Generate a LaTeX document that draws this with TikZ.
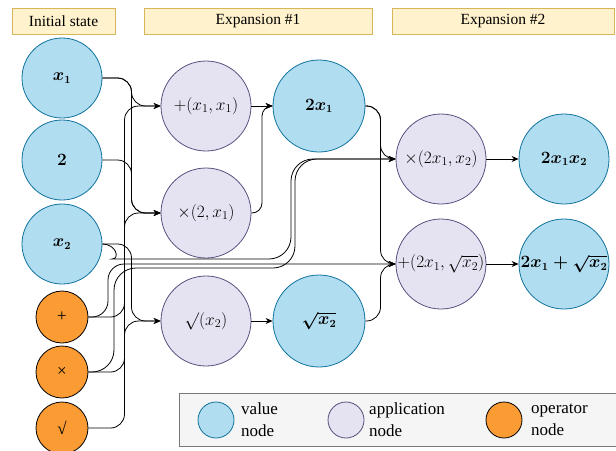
\documentclass[tikz,border=0pt]{standalone}
\usepackage{amsmath}
\usepackage{amssymb}
\usepackage[no-math]{fontspec}
\setmainfont{Liberation Serif}
\usepackage{xcolor}
\usepackage{tikz}
\usetikzlibrary{arrows.meta,calc}

\definecolor{hdrfill}{HTML}{FFF2CC}
\definecolor{hdrline}{HTML}{D6B656}
\definecolor{valfill}{HTML}{B1DDF0}
\definecolor{valline}{HTML}{10739E}
\definecolor{appfill}{HTML}{E5E3F2}
\definecolor{appline}{HTML}{56517E}
\definecolor{opfill}{HTML}{FA9C33}
\definecolor{legfill}{HTML}{F5F5F5}
\definecolor{legline}{HTML}{777777}

\begin{document}
\begin{tikzpicture}[x=1pt,y=-1pt,
			every node/.style={inner sep=0pt},
			hdr/.style={draw=hdrline,fill=hdrfill,line width=0.8pt,minimum height=26pt,font=\fontsize{15.5}{18}\selectfont},
			val/.style={circle,draw=valline,fill=valfill,line width=0.8pt,minimum size=80pt,font=\fontsize{16}{19}\selectfont\boldmath},
			app/.style={circle,draw=appline,fill=appfill,line width=0.8pt,minimum size=90pt,font=\fontsize{17}{20}\selectfont},
			op/.style={circle,draw=black,fill=opfill,line width=0.8pt,minimum size=52pt,font=\fontsize{17}{20}\selectfont},
			legtext/.style={anchor=west,align=left,font=\fontsize{17}{22}\selectfont},
			link/.style={-{Stealth[length=7pt,width=6pt]},line width=0.8pt,rounded corners=14pt},
			elbow/.style={to path={let \p1=(\tikztostart), \p2=(\tikztotarget) in
				-- ({(\x1+\x2)/2},\y1) -- ({(\x1+\x2)/2},\y2) -- (\p2)}}]
	\useasboundingbox (0,0) rectangle (616,450);
	\node[hdr,minimum width=103pt] (init) at (63.5,21) {Initial state};
	\node[hdr,minimum width=228pt] (exp1) at (258,21) {Expansion \#1};
	\node[hdr,minimum width=222pt] (exp2) at (503,21) {Expansion \#2};
	\node[val] (x1) at (62,78) {$x_1$};
	\node[val] (two) at (62,160) {$2$};
	\node[val] (x2) at (62,244) {$x_2$};
	\node[op] (plusop) at (62,317) {+};
	\node[op] (timesop) at (62,372) {×};
	\node[op] (sqrtop) at (62,428) {√};
	\node[app] (plus1) at (206,106) {$+(x_1, x_1)$};
	\node[app] (times1) at (206,213) {$\times(2, x_1)$};
	\node[app] (sqrt1) at (206,321) {$\surd(x_2)$};
	\node[val,minimum size=92pt] (dbl) at (319,106) {$2x_1$};
	\node[val,minimum size=92pt] (root) at (319,321) {$\sqrt{x_2}$};
	\node[app] (times2) at (441,159) {$\times(2x_1, x_2)$};
	\node[app] (plus2) at (441,264) {$+(2x_1, \sqrt{x_2})$};
	\node[val,minimum size=90pt] (prod) at (564,159) {$2x_1x_2$};
	\node[val,minimum size=90pt] (sum) at (564,264) {$2x_1 + \sqrt{x_2}$};
	\draw[link] (x1.east) to[elbow] (plus1.west);
	\draw[link] (x1.east) to[elbow] (times1.west);
	\draw[link] (two.east) to[elbow] (times1.west);
	\draw[link] (plusop.east) to[elbow] (plus1.west);
	\draw[link] (timesop.east) to[elbow] (times1.west);
	\draw[link] (x2.east) to[elbow] (sqrt1.west);
	\draw[link] (sqrtop.east) to[elbow] (sqrt1.west);
	\draw[link] (plus1) -- (dbl);
	\draw[link,rounded corners=10pt] (times1.east) to[elbow] (dbl.west);
	\draw[link] (sqrt1) -- (root);
	\draw[link] (dbl.east) to[elbow] (times2.west);
	\draw[link] (dbl.east) to[elbow] (plus2.west);
	\draw[link] (root.east) to[elbow] (plus2.west);
	\draw[link] (times2) -- (prod);
	\draw[link] (plus2) -- (sum);
	\draw[link,rounded corners=16pt] (plusop.east) -| (108,264) -- (plus2.west);
	\draw[link,rounded corners=22pt] (timesop.east) -| (114,268) -| (295,159) -- (times2.west);
	\draw[link,rounded corners=22pt] (x2.east) to[out=0,in=180] (134,259) -| (291,159) -- (times2.west);
	\node[draw=legline,fill=legfill,line width=0.8pt,minimum width=445pt,minimum height=53pt,anchor=north west] (legend) at (179,393) {};
	\node[val,minimum size=36pt] (kval) at (216,420) {};
	\node[legtext] (tval) at (241,420) {value\\node};
	\node[app,minimum size=36pt] (kapp) at (346,420) {};
	\node[legtext] (tapp) at (369,420) {application\\node};
	\node[op,minimum size=36pt] (kop) at (504,420) {};
	\node[legtext] (top) at (531,420) {operator\\node};
\end{tikzpicture}
\end{document}
